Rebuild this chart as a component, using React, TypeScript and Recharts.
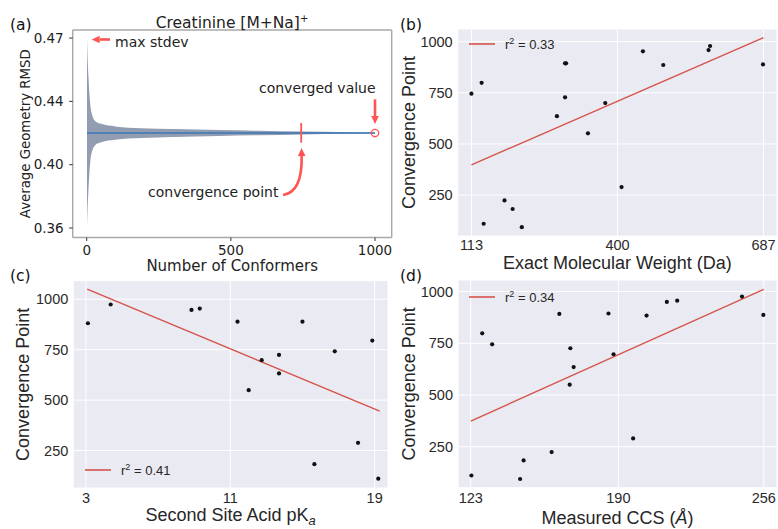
import React from "react";
import {
  Area,
  CartesianGrid,
  ComposedChart,
  Label,
  Legend,
  Line,
  ReferenceDot,
  ReferenceLine,
  Scatter,
  XAxis,
  YAxis,
} from "recharts";

// (a) spread of the average geometry RMSD vs. number of conformers
const confN = [1, 3, 6, 9, 13, 18, 30, 50, 100, 190, 300, 460, 600, 750, 900, 1000];
const rmsdUpper = [0.48, 0.468, 0.456, 0.446, 0.437, 0.432, 0.4275, 0.4258, 0.4242, 0.4231, 0.4225, 0.4219, 0.4214, 0.4209, 0.4205, 0.4203];
const rmsdLower = [0.36, 0.372, 0.384, 0.394, 0.403, 0.408, 0.4125, 0.4142, 0.4158, 0.4169, 0.4175, 0.4181, 0.4186, 0.4191, 0.4195, 0.4197];
const meanN = [1, 1000];
const meanRmsd = [0.42, 0.42];
const convergedAt = 744;
const convergedValue = 0.42;
const confTicks = [0, 500, 1000];
const rmsdTicks = [0.36, 0.4, 0.44, 0.48];
const rmsdTickLabels = ["0.36", "0.40", "0.44", "0.47"];

// (b) exact molecular weight
const mwX = [113, 133, 137, 178, 194, 212, 281, 297, 299, 297, 342, 376, 408, 450, 490, 579, 582, 686];
const mwCp = [746, 799, 110, 224, 182, 93, 636, 894, 894, 728, 552, 700, 289, 953, 886, 959, 979, 889];
const mwFitX = [113, 687];
const mwFitY = [398, 1020];
const mwTicks = [113, 400, 687];

// (c) second site acid pKa
const pkaX = [3.11, 4.37, 8.85, 9.31, 11.4, 12.02, 12.74, 13.7, 13.7, 15.0, 15.66, 16.79, 18.08, 18.87, 19.2];
const pkaCp = [881, 974, 947, 954, 889, 549, 698, 724, 632, 889, 182, 742, 288, 795, 110];
const pkaFitX = [3.07, 19.28];
const pkaFitY = [1050, 445];
const pkaTicks = [3, 11, 19];

// (d) measured CCS
const ccsX = [123.3, 128.2, 132.7, 145.4, 147.0, 159.7, 163.2, 167.9, 168.2, 169.7, 185.5, 187.8, 196.7, 202.8, 212.0, 216.7, 246.1, 255.8];
const ccsCp = [111, 798, 745, 94, 184, 224, 892, 550, 726, 635, 894, 697, 290, 884, 950, 956, 976, 887];
const ccsFitX = [123, 256];
const ccsFitY = [374, 1011];
const ccsTicks = [123, 190, 256];

const cpTicks = [250, 500, 750, 1000];
const r2 = { mw: "0.33", pka: "0.41", ccs: "0.34" };

const RED = "#ff5454";
const FIT = "#d5534a";
const FRAME = "#a8a8a8";
const DV = "DejaVu Sans";
const LS = "Liberation Sans";

const A_X: [number, number] = [-48.6, 1057.9];
const A_Y: [number, number] = [0.354, 0.4851];

const pairs = (xs: number[], ys: number[]) => xs.map((x, i) => ({ x, y: ys[i] }));

const xLabel = (content: React.ReactNode, dy: number, font: any) => (props: any) => {
  const vb = props.viewBox;
  return (
    <text x={vb.x + vb.width / 2} y={vb.y + dy} textAnchor="middle" {...font}>
      {content}
    </text>
  );
};

const yLabel = (content: React.ReactNode, x: number, font: any) => (props: any) => {
  const vb = props.viewBox;
  const cy = vb.y + vb.height / 2;
  return (
    <text x={x} y={cy} transform={`rotate(-90, ${x}, ${cy})`} textAnchor="middle" {...font}>
      {content}
    </text>
  );
};

const arrow = (curved = false) => (p: any) => {
  const { x1, y1, x2, y2 } = p;
  const head = 8;
  const half = 3.8;
  const cx = x2 + 1;
  const cy = y1 - 3;
  const ang = curved ? Math.atan2(y2 - cy, x2 - cx) : Math.atan2(y2 - y1, x2 - x1);
  const bx = x2 - head * Math.cos(ang);
  const by = y2 - head * Math.sin(ang);
  const d = curved ? `M${x1},${y1} Q${cx},${cy} ${bx},${by}` : `M${x1},${y1} L${bx},${by}`;
  const px = -Math.sin(ang) * half;
  const py = Math.cos(ang) * half;
  return (
    <g>
      <path d={d} stroke={RED} strokeWidth={2.6} fill="none" />
      <polygon points={`${x2},${y2} ${bx + px},${by + py} ${bx - px},${by - py}`} fill={RED} />
    </g>
  );
};

const note = (text: string) => (p: any) => (
  <text x={p.cx} y={p.cy} fontFamily={DV} fontSize={14} fill="#222">
    {text}
  </text>
);

function PanelA() {
  const band = confN.map((x, i) => ({ x, range: [rmsdLower[i], rmsdUpper[i]] }));
  const mean = pairs(meanN, meanRmsd);
  const tick = { fontFamily: DV, fontSize: 13.5, fill: "#222" };
  return (
    <ComposedChart width={395} height={275} margin={{ top: 30, right: 3.3, bottom: 0, left: 12.7 }}>
      <XAxis
        type="number"
        dataKey="x"
        domain={A_X}
        allowDataOverflow
        ticks={confTicks}
        interval={0}
        height={37.5}
        axisLine={false}
        tickLine={{ stroke: "#333" }}
        tickSize={3.5}
        tickMargin={4}
        tick={tick}
      >
        <Label content={xLabel("Number of Conformers", 33, { fontFamily: DV, fontSize: 15, fill: "#222" })} />
      </XAxis>
      <YAxis
        type="number"
        domain={A_Y}
        allowDataOverflow
        ticks={rmsdTicks}
        interval={0}
        width={60}
        axisLine={false}
        tickLine={{ stroke: "#333" }}
        tickSize={3.5}
        tickMargin={5.5}
        tick={tick}
        tickFormatter={(v: number) => rmsdTickLabels[rmsdTicks.indexOf(v)]}
      >
        <Label content={yLabel("Average Geometry RMSD", 29.5, { fontFamily: DV, fontSize: 13.3, fill: "#222" })} />
      </YAxis>
      {/* plot frame */}
      <ReferenceLine x={A_X[0]} stroke={FRAME} strokeWidth={1.4} ifOverflow="visible" />
      <ReferenceLine x={A_X[1]} stroke={FRAME} strokeWidth={1.4} ifOverflow="visible" />
      <ReferenceLine y={A_Y[0]} stroke={FRAME} strokeWidth={1.4} ifOverflow="visible" />
      <ReferenceLine y={A_Y[1]} stroke={FRAME} strokeWidth={1.4} ifOverflow="visible" />
      <Area
        data={band}
        dataKey="range"
        type="monotone"
        stroke="none"
        fill="#939db1"
        fillOpacity={1}
        isAnimationActive={false}
      />
      <Line data={mean} dataKey="y" stroke="#3b79b6" strokeWidth={1.5} dot={false} isAnimationActive={false} />
      <ReferenceLine
        segment={[{ x: convergedAt, y: 0.4139 }, { x: convergedAt, y: 0.4263 }]}
        stroke={RED}
        strokeWidth={1.8}
      />
      <ReferenceDot
        x={1000}
        y={convergedValue}
        r={3.7}
        fill="none"
        stroke={RED}
        strokeWidth={1.3}
      />
      <ReferenceLine segment={[{ x: 80.8, y: 0.4791 }, { x: 17.3, y: 0.4791 }]} shape={arrow()} />
      <ReferenceLine segment={[{ x: 1000, y: 0.4413 }, { x: 1000, y: 0.4257 }]} shape={arrow()} />
      <ReferenceLine segment={[{ x: 681, y: 0.3808 }, { x: 745, y: 0.4105 }]} shape={arrow(true)} />
      <ReferenceDot x={98.2} y={0.4745} r={0} shape={note("max stdev")} />
      <ReferenceDot x={597.6} y={0.4453} r={0} shape={note("converged value")} />
      <ReferenceDot x={212.6} y={0.3796} r={0} shape={note("convergence point")} />
    </ComposedChart>
  );
}

type ScatterPanelProps = {
  xs: number[];
  ys: number[];
  fitX: number[];
  fitY: number[];
  r2: string;
  xDomain: [number, number];
  yDomain: [number, number];
  xTicks: number[];
  width: number;
  height: number;
  margin: { top: number; right: number; bottom: number; left: number };
  xAxisHeight: number;
  xTickMargin: number;
  xTitle: React.ReactNode;
  xTitleDy: number;
  yTitleX: number;
  legendPos: { left: number; top: number };
};

function ScatterPanel(p: ScatterPanelProps) {
  const tick = { fontFamily: LS, fontSize: 14.5, fill: "#2a2a2a" };
  const title = { fontFamily: LS, fontSize: 18, fill: "#262626" };
  return (
    <ComposedChart width={p.width} height={p.height} margin={p.margin}>
      <CartesianGrid fill="#eaeaf2" stroke="#ffffff" strokeWidth={1} />
      <XAxis
        type="number"
        dataKey="x"
        domain={p.xDomain}
        allowDataOverflow
        ticks={p.xTicks}
        interval={0}
        height={p.xAxisHeight}
        axisLine={false}
        tickLine={false}
        tickSize={0}
        tickMargin={p.xTickMargin}
        tick={tick}
      >
        <Label content={xLabel(p.xTitle, p.xTitleDy, title)} />
      </XAxis>
      <YAxis
        type="number"
        dataKey="y"
        domain={p.yDomain}
        allowDataOverflow
        ticks={cpTicks}
        interval={0}
        width={60}
        axisLine={false}
        tickLine={false}
        tickSize={0}
        tickMargin={5}
        tick={tick}
      >
        <Label content={yLabel("Convergence Point", p.yTitleX, title)} />
      </YAxis>
      <Legend
        layout="vertical"
        verticalAlign="middle"
        align="center"
        wrapperStyle={{ left: p.legendPos.left, top: p.legendPos.top, width: "auto", height: "auto" }}
        content={() => (
          <svg width={100} height={20} style={{ display: "block" }}>
            <line x1={0} y1={9} x2={26} y2={9} stroke={FIT} strokeWidth={1.6} />
            <text x={36} y={13.5} fontFamily={LS} fontSize={13} fill="#262626">
              r<tspan dy={-5} fontSize={9}>2</tspan>
              <tspan dy={5}>{` = ${p.r2}`}</tspan>
            </text>
          </svg>
        )}
      />
      <Line
        data={pairs(p.fitX, p.fitY)}
        dataKey="y"
        name={`r2 = ${p.r2}`}
        stroke={FIT}
        strokeWidth={1.4}
        dot={false}
        isAnimationActive={false}
      />
      <Scatter
        data={pairs(p.xs, p.ys)}
        dataKey="y"
        legendType="none"
        isAnimationActive={false}
        shape={(s: any) => <circle cx={s.cx} cy={s.cy} r={2.1} fill="#111" />}
      />
    </ComposedChart>
  );
}

export default function App() {
  const tag = { fontFamily: DV, fontSize: 15.5, fill: "#111" };
  return (
    <div style={{ position: "absolute", left: 0, top: 0, width: 778, height: 529, background: "#fff", overflow: "hidden" }}>
      <div style={{ position: "absolute", left: 0, top: 0 }}>
        <PanelA />
      </div>
      <div style={{ position: "absolute", left: 390, top: 0 }}>
        <ScatterPanel
          xs={mwX}
          ys={mwCp}
          fitX={mwFitX}
          fitY={mwFitY}
          r2={r2.mw}
          xDomain={[86, 713.5]}
          yDomain={[50, 1062]}
          xTicks={mwTicks}
          width={388}
          height={275}
          margin={{ top: 29, right: 1, bottom: 0, left: 7.7 }}
          xAxisHeight={39}
          xTickMargin={4}
          xTitle="Exact Molecular Weight (Da)"
          xTitleDy={33}
          yTitleX={25}
          legendPos={{ left: 79, top: 35 }}
        />
      </div>
      <div style={{ position: "absolute", left: 0, top: 260 }}>
        <ScatterPanel
          xs={pkaX}
          ys={pkaCp}
          fitX={pkaFitX}
          fitY={pkaFitY}
          r2={r2.pka}
          xDomain={[2.3, 19.74]}
          yDomain={[64, 1092]}
          xTicks={pkaTicks}
          width={392}
          height={269}
          margin={{ top: 20.7, right: 4, bottom: 0, left: 13.3 }}
          xAxisHeight={41}
          xTickMargin={5}
          xTitle={
            <>
              Second Site Acid pK
              <tspan dy={4} fontSize={13} fontStyle="italic">a</tspan>
            </>
          }
          xTitleDy={33}
          yTitleX={29.5}
          legendPos={{ left: 85, top: 201 }}
        />
      </div>
      <div style={{ position: "absolute", left: 390, top: 260 }}>
        <ScatterPanel
          xs={ccsX}
          ys={ccsCp}
          fitX={ccsFitX}
          fitY={ccsFitY}
          r2={r2.ccs}
          xDomain={[117.2, 262]}
          yDomain={[52, 1056]}
          xTicks={ccsTicks}
          width={388}
          height={269}
          margin={{ top: 20, right: 1, bottom: 0, left: 8 }}
          xAxisHeight={41.3}
          xTickMargin={5.5}
          xTitle={
            <>
              Measured CCS (<tspan fontStyle="italic">Å</tspan>)
            </>
          }
          xTitleDy={36}
          yTitleX={25}
          legendPos={{ left: 79, top: 28.3 }}
        />
      </div>
      <svg width={778} height={529} style={{ position: "absolute", left: 0, top: 0, pointerEvents: "none" }}>
        <text x={10} y={29.7} {...tag}>(a)</text>
        <text x={400} y={29.7} {...tag}>(b)</text>
        <text x={10} y={281.3} {...tag}>(c)</text>
        <text x={400} y={281.3} {...tag}>(d)</text>
        <text x={232} y={27.7} textAnchor="middle" fontFamily={DV} fontSize={15.5} fill="#222">
          Creatinine [M+Na]<tspan dy={-6} fontSize={10}>+</tspan>
        </text>
      </svg>
    </div>
  );
}
